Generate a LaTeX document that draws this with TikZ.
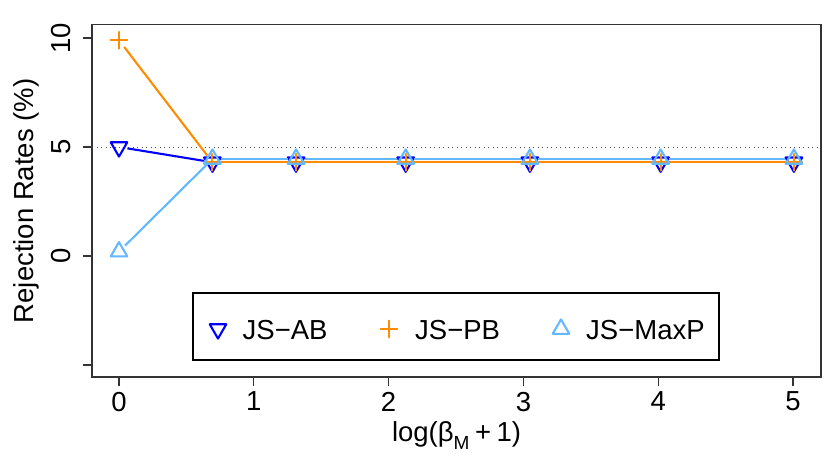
\documentclass[tikz,border=0pt]{standalone}
\usepackage{fontspec}
\setmainfont{Liberation Sans}
\usetikzlibrary{plotmarks}
\tikzset{lbl/.style = {font = \fontsize{27.5}{33}\selectfont, inner sep = 0}}
\tikzset{seg/.style = {line width = 2.1pt, shorten > = 8.5pt, shorten < = 8.5pt}}
\tikzset{mk/.style = {line width = 2.1pt, line cap = round, line join = round, mark size = 9.6pt}}
\tikzset{frame/.style = {line width = 1.15pt, black!80}}
\definecolor{mblue}{rgb}{0, 0, 1}
\definecolor{morange}{rgb}{1, 0.55, 0}
\definecolor{msky}{rgb}{0.39, 0.72, 1}

\begin{document}
\begin{tikzpicture}[x = 134.8pt, y = 21.8pt]
    \useasboundingbox (-119pt, -205pt) rectangle (711pt, 256pt);

    \draw [frame] (-0.2, -5.55) rectangle (5.208, 10.6);
    \draw [line width = 0.9pt, black!70, dash pattern = on 1.1pt off 3.4pt] (-0.2, 5) -- (5.208, 5);

    % axes
    \foreach \x in {0, ..., 5} {
        \draw [frame] (\x, -5.55) -- ++(0, -9pt);
        \node [lbl, yshift = -14.7pt, anchor = north] (xt\x) at (\x, -5.55) {\x};
    }
    \foreach \y in {-5, 0, 5, 10}
        \draw [frame] (-0.2, \y) -- ++(-9pt, 0);
    \foreach \y in {0, 5, 10}
        \node [lbl, xshift = -21.5pt, rotate = 90, anchor = south] (yt\y) at (-0.2, \y) {\y};
    \node [lbl, xshift = -59pt, rotate = 90, anchor = base] (ylab) at (-0.2, 2.525) {Rejection Rates (\%)};
    \node [lbl, yshift = -64.7pt, anchor = base] (xlab) at (2.504, -5.55)
        {log(β\raisebox{-0.28em}{\fontsize{19}{22}\selectfont M}\hspace{0.2em}+\hspace{0.2em}1)};

    % data points
    \foreach \n/\x/\a/\b/\c in {0/0/5.0/9.9/0.2, 1/0.6931/4.3/4.3/4.45, 2/1.3133/4.3/4.3/4.45,
            3/2.1269/4.3/4.3/4.45, 4/3.0486/4.3/4.3/4.45, 5/4.0181/4.3/4.3/4.45, 6/5.0067/4.3/4.3/4.45} {
        \coordinate (ab\n) at (\x, \a);
        \coordinate (pb\n) at (\x, \b);
        \coordinate (mp\n) at (\x, \c);
    }

    \foreach \p/\n in {0/1, 1/2, 2/3, 3/4, 4/5, 5/6}
        \draw [seg, mblue] (ab\p) -- (ab\n);
    \draw [mk, mblue] plot [only marks, mark = triangle, mark options = {rotate = 180}]
        coordinates {(ab0) (ab1) (ab2) (ab3) (ab4) (ab5) (ab6)};

    \foreach \p/\n in {0/1, 1/2, 2/3, 3/4, 4/5, 5/6}
        \draw [seg, morange] (pb\p) -- (pb\n);
    \draw [mk, morange, mark size = 8.4pt] plot [only marks, mark = +]
        coordinates {(pb0) (pb1) (pb2) (pb3) (pb4) (pb5) (pb6)};

    \foreach \p/\n in {0/1, 1/2, 2/3, 3/4, 4/5, 5/6}
        \draw [seg, msky] (mp\p) -- (mp\n);
    \draw [mk, msky] plot [only marks, mark = triangle]
        coordinates {(mp0) (mp1) (mp2) (mp3) (mp4) (mp5) (mp6)};

    % legend
    \draw [line width = 1.15pt] (74pt, -104pt) rectangle (600pt, -37pt);
    \coordinate (lab) at (99pt, -73pt);
    \coordinate (lpb) at (270pt, -73pt);
    \coordinate (lmp) at (442pt, -73pt);
    \draw [mk, mblue] plot [only marks, mark = triangle, mark options = {rotate = 180}] coordinates {(lab)};
    \draw [mk, morange, mark size = 8.4pt] plot [only marks, mark = +] coordinates {(lpb)};
    \draw [mk, msky] plot [only marks, mark = triangle] coordinates {(lmp)};
    \node [lbl, anchor = base west] (tab) at (123.5pt, -83pt) {JS−AB};
    \node [lbl, anchor = base west] (tpb) at (296pt, -83pt) {JS−PB};
    \node [lbl, anchor = base west] (tmp) at (467pt, -83pt) {JS−MaxP};
\end{tikzpicture}
\end{document}
